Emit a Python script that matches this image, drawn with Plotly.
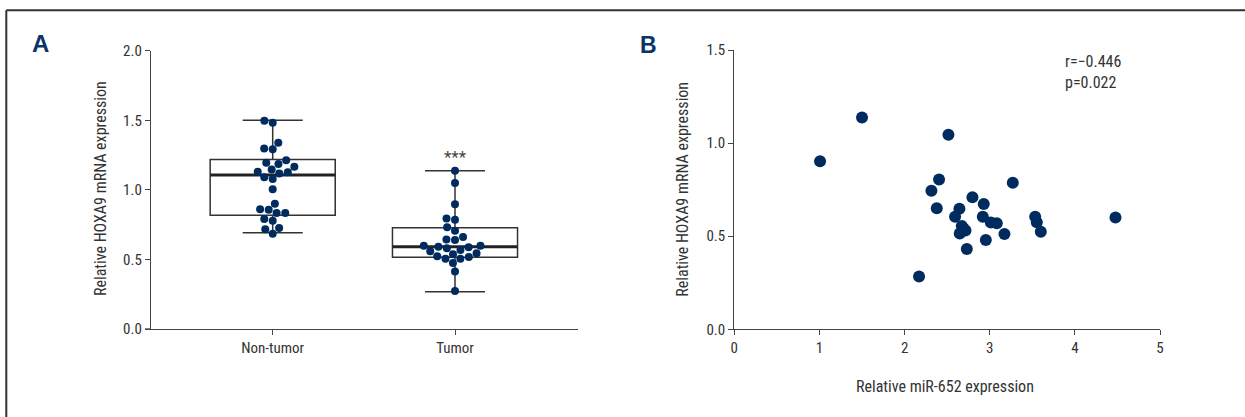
import numpy as np
import plotly.graph_objects as go

# ---------------- data ----------------
groups = ["Non-tumor", "Tumor"]
nontumor = [1.482, 1.497, 1.338, 1.298, 1.291, 1.212, 1.195, 1.185, 1.166, 1.147,
            1.130, 1.118, 1.126, 1.078, 1.090, 1.004, 0.900, 0.857, 0.860, 0.833,
            0.833, 0.790, 0.778, 0.726, 0.716, 0.685]
tumor = [1.137, 1.049, 0.896, 0.785, 0.795, 0.731, 0.706, 0.661, 0.639, 0.644,
         0.591, 0.587, 0.580, 0.599, 0.599, 0.558, 0.568, 0.537, 0.544, 0.517,
         0.505, 0.505, 0.522, 0.474, 0.414, 0.273]
box_upper = [1.501, 1.137]
box_q3 = [1.219, 0.728]
box_median = [1.106, 0.591]
box_q1 = [0.817, 0.515]
box_lower = [0.692, 0.268]

mir652 = [1.50, 1.007, 2.515, 2.405, 2.315, 2.378, 3.271, 2.797, 2.930, 2.644,
          2.593, 2.919, 3.013, 3.083, 2.672, 2.715, 2.648, 3.173, 2.954, 2.731,
          2.170, 3.534, 3.553, 3.600, 4.477, 2.691]
hoxa9 = [1.138, 0.902, 1.045, 0.804, 0.744, 0.650, 0.787, 0.709, 0.673, 0.648,
         0.605, 0.605, 0.573, 0.569, 0.555, 0.530, 0.514, 0.512, 0.480, 0.431,
         0.283, 0.605, 0.575, 0.524, 0.601, 0.542]

stat_text = "r=\u22120.446<br>p=0.022"
sig_text = "***"

# ---------------- layout constants ----------------
W, H = 1245, 417
FONT = "Liberation Sans Narrow, Arial Narrow, Roboto Condensed, Roboto, sans-serif"
NAVY = "#002b5e"
AX = "#444444"

xa_dom = [151 / W, 578 / W]
ya_dom = [1 - 329 / H, 1 - 50.7 / H]
xa_rng = [-0.6676, 1.6747]
ya_rng = [0, 2]
xb_dom = [734.3 / W, 1160 / W]
yb_dom = [1 - 329.3 / H, 1 - 50 / H]

BOX_W = 0.686
px_per_x = (xa_dom[1] - xa_dom[0]) * W / (xa_rng[1] - xa_rng[0])
px_per_y = (ya_dom[1] - ya_dom[0]) * H / (ya_rng[1] - ya_rng[0])


def swarm(values, diam):
    vals = np.asarray(values, float)
    order = np.argsort(vals)
    placed = []
    offs = np.zeros(len(vals))
    for i in order:
        y = vals[i] * px_per_y
        forb = []
        for xp, yp in placed:
            dy = abs(y - yp)
            if dy < diam:
                h = np.sqrt(diam ** 2 - dy ** 2)
                forb.append((xp - h, xp + h))
        cands = [0.0] + [a for a, b in forb] + [b for a, b in forb]
        cands.sort(key=lambda c: (abs(c), c))
        x = 0.0
        for c in cands:
            if all(not (a + 1e-6 < c < b - 1e-6) for a, b in forb):
                x = c
                break
        placed.append((x, y))
        offs[i] = x / px_per_x
    return offs


fig = go.Figure()

# boxes
fig.add_trace(go.Box(
    x=[0, 1], q1=box_q1, median=box_median, q3=box_q3,
    lowerfence=box_lower, upperfence=box_upper,
    width=BOX_W, whiskerwidth=0.48, boxpoints=False,
    fillcolor="rgba(255,255,255,0)", line=dict(color="#333333", width=1.5),
    xaxis="x", yaxis="y", showlegend=False, hoverinfo="skip"))

# thick median lines
mx, my = [], []
for i, m in enumerate(box_median):
    mx += [i - BOX_W / 2, i + BOX_W / 2, None]
    my += [m, m, None]
fig.add_trace(go.Scatter(x=mx, y=my, mode="lines",
                         line=dict(color="#222222", width=3),
                         xaxis="x", yaxis="y", showlegend=False, hoverinfo="skip"))

# swarm points
for i, vals in enumerate([nontumor, tumor]):
    offs = swarm(vals, 8.6)
    fig.add_trace(go.Scatter(x=i + offs, y=vals, mode="markers",
                             marker=dict(color=NAVY, size=8),
                             xaxis="x", yaxis="y", showlegend=False, cliponaxis=False))

# scatter panel B
fig.add_trace(go.Scatter(x=mir652, y=hoxa9, mode="markers",
                         marker=dict(color=NAVY, size=12),
                         xaxis="x2", yaxis="y2", showlegend=False, cliponaxis=False))

axis_common = dict(showgrid=False, zeroline=False, showline=True, linecolor=AX,
                   linewidth=1.3, ticks="outside", ticklen=5, tickcolor=AX, tickwidth=1.3,
                   automargin=False,
                   tickfont=dict(family=FONT, size=15, color="#333333"))

fig.update_layout(
    width=W, height=H, autosize=False,
    margin=dict(l=0, r=0, t=0, b=0, pad=0, autoexpand=False),
    paper_bgcolor="white", plot_bgcolor="white",
    font=dict(family=FONT, color="#333333"),
    xaxis=dict(domain=xa_dom, range=xa_rng, anchor="y", tickmode="array",
               tickvals=[0, 1], ticktext=groups, **axis_common),
    yaxis=dict(domain=ya_dom, range=ya_rng, anchor="x", tickmode="linear",
               tick0=0, dtick=0.5, tickformat=".1f", **axis_common),
    xaxis2=dict(domain=xb_dom, range=[0, 5], anchor="y2", tickmode="linear",
                tick0=0, dtick=1, **axis_common),
    yaxis2=dict(domain=yb_dom, range=[0, 1.5], anchor="x2", tickmode="linear",
                tick0=0, dtick=0.5, tickformat=".1f", **axis_common),
)

ann = []
ann.append(dict(text="<b>A</b>", x=40.5 / W, y=1 - 43 / H, xref="paper", yref="paper",
                showarrow=False, xanchor="center", yanchor="middle",
                font=dict(family="Liberation Sans, Arial, sans-serif", size=24, color="#0b3466")))
ann.append(dict(text="<b>B</b>", x=648 / W, y=1 - 44.5 / H, xref="paper", yref="paper",
                showarrow=False, xanchor="center", yanchor="middle",
                font=dict(family="Liberation Sans, Arial, sans-serif", size=23, color="#0b3466")))
ann.append(dict(text="Relative HOXA9 mRNA expression", textangle=-90,
                x=100 / W, y=1 - 189 / H, xref="paper", yref="paper",
                showarrow=False, xanchor="center", yanchor="middle",
                font=dict(family=FONT, size=16, color="#333333")))
ann.append(dict(text="Relative HOXA9 mRNA expression", textangle=-90,
                x=681.7 / W, y=1 - 189 / H, xref="paper", yref="paper",
                showarrow=False, xanchor="center", yanchor="middle",
                font=dict(family=FONT, size=16, color="#333333")))
ann.append(dict(text="Relative miR-652 expression",
                x=945 / W, y=1 - 386 / H, xref="paper", yref="paper",
                showarrow=False, xanchor="center", yanchor="middle",
                font=dict(family=FONT, size=16, color="#333333")))
ann.append(dict(text=sig_text, x=1, y=box_upper[1], xref="x", yref="y",
                showarrow=False, xanchor="center", yanchor="bottom", yshift=2,
                font=dict(family=FONT, size=17, color="#444444")))
ann.append(dict(text=stat_text, x=1062.7 / W, y=1 - 71.7 / H, xref="paper", yref="paper",
                showarrow=False, xanchor="left", yanchor="middle", align="left",
                font=dict(family=FONT, size=16, color="#333333")))
fig.update_layout(annotations=ann)

# frame lines (left and top)
fig.add_shape(type="line", xref="paper", yref="paper",
              x0=6.3 / W, y0=0, x1=6.3 / W, y1=1 - 10.3 / H,
              line=dict(color="#333333", width=2))
fig.add_shape(type="line", xref="paper", yref="paper",
              x0=6.3 / W, y0=1 - 10.3 / H, x1=1, y1=1 - 10.3 / H,
              line=dict(color="#333333", width=2))
# small left extension of panel A baseline (Prism-style offset)
fig.add_shape(type="line", xref="paper", yref="paper",
              x0=145 / W, y0=ya_dom[0], x1=xa_dom[0], y1=ya_dom[0],
              line=dict(color=AX, width=1.3))

fig.write_html("out.html", config={"displayModeBar": False},
               post_script="document.body.style.margin='0';document.body.style.padding='0';")
